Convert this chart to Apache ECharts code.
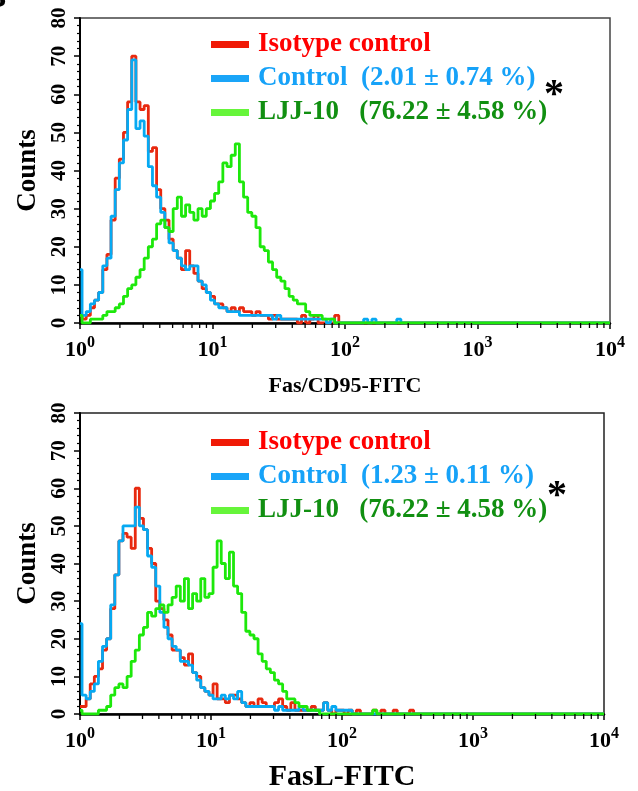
<!DOCTYPE html>
<html>
<head>
<meta charset="utf-8">
<script src="https://cdn.jsdelivr.net/npm/echarts@6/dist/echarts.min.js"></script>
<style>
  html, body { margin: 0; padding: 0; background: #fff; }
  #chart { width: 638px; height: 791px; }
</style>
</head>
<body>
<div id="chart"></div>
<script>
// histogram channels: 32 bins per decade, bin 0 = 10^0
const binsPerDecade = 32
const xMin = 1
const xMax = 10000

// Fas/CD95-FITC panel
const fasIsotype = [2, 1, 2, 4, 6, 8, 14, 18, 27, 38, 43, 50, 58, 70, 58, 56, 57, 45, 46, 35,
  30, 27, 22, 19, 17, 14, 19, 15, 13, 11, 9, 8, 7, 5, 5, 4, 3, 4, 3, 4,
  3, 3, 2, 3, 2, 2, 1, 2, 1, 1, 1, 1, 1, 0, 2, 0, 1, 2, 0, 0,
  0, 0, 2, 0, 0]
const fasControl = [14, 2, 3, 5, 6, 8, 15, 17, 28, 35, 42, 48, 56, 69, 51, 53, 49, 41, 36, 33,
  29, 25, 21, 19, 17, 15, 14, 15, 15, 11, 10, 8, 6, 5, 4, 4, 3, 3, 3, 2,
  2, 2, 2, 2, 2, 2, 2, 1, 2, 1, 1, 1, 1, 1, 1, 1, 1, 1, 1, 1,
  0, 1, 0, 0, 0, 0, 0, 0, 0, 1, 0, 1, 0, 0, 0, 0, 0, 1, 0]
const fasLJJ = [2, 0, 0, 1, 1, 1, 2, 3, 3, 4, 5, 7, 9, 10, 12, 14, 17, 20, 22, 26,
  27, 25, 24, 30, 33, 28, 31, 29, 27, 30, 28, 30, 32, 34, 37, 42, 41, 44, 47, 37,
  33, 29, 28, 25, 20, 19, 16, 14, 12, 11, 9, 7, 6, 5, 5, 3, 2, 2, 2, 1,
  1, 1, 0]

// FasL-FITC panel
const faslIsotype = [2, 2, 4, 8, 10, 12, 17, 20, 28, 37, 46, 48, 47, 44, 60, 52, 49, 44, 40, 30,
  28, 25, 21, 17, 17, 15, 13, 16, 11, 10, 7, 6, 5, 8, 4, 4, 3, 5, 5, 4,
  3, 2, 3, 2, 4, 3, 2, 2, 3, 4, 2, 1, 3, 1, 1, 1, 1, 2, 1, 1,
  3, 1, 0, 1, 1, 0, 1, 0, 1, 0, 0, 0, 1, 0, 1, 0, 0, 1, 0, 0,
  0, 1, 0]
const faslControl = [24, 5, 4, 6, 8, 14, 18, 20, 29, 37, 46, 50, 50, 50, 55, 50, 49, 42, 39, 34,
  27, 23, 20, 18, 17, 14, 14, 13, 11, 9, 7, 6, 5, 4, 4, 5, 4, 5, 4, 6,
  3, 2, 2, 2, 2, 2, 2, 2, 1, 2, 1, 1, 1, 1, 2, 1, 1, 1, 1, 1,
  3, 1, 2, 1, 1, 1, 1, 0]
const faslLJJ = [1, 0, 0, 0, 0, 1, 1, 2, 5, 7, 8, 7, 10, 14, 17, 21, 23, 27, 26, 28,
  29, 27, 29, 31, 34, 30, 36, 28, 32, 30, 36, 31, 32, 39, 46, 40, 36, 43, 34, 32,
  27, 22, 21, 20, 16, 14, 12, 11, 9, 8, 6, 4, 4, 3, 2, 2, 1, 1, 1, 0,
  0, 0, 0, 0, 0, 0, 0, 0, 0, 0, 0, 0, 1, 0]

const isotypeName = 'Isotype control'
const fasControlName = 'Control  (2.01 ± 0.74 %)'
const faslControlName = 'Control  (1.23 ± 0.11 %)'
const ljjName = 'LJJ-10   (76.22 ± 4.58 %)'

const lineColors = { red: '#e8290f', blue: '#06a9f2', green: '#1de80b' }
const swatchColors = { red: '#f01a06', blue: '#1aa5f8', green: '#66f53a' }
const textColors = { red: '#ff0000', blue: '#16a2f8', green: '#118f11' }

const serif = '"Liberation Serif", "Times New Roman", serif'

// log minor ticks (2..9 in each decade)
const minorTickValues = []
for (let d = 1; d < xMax; d *= 10) {
  for (let m = 2; m <= 9; m++) minorTickValues.push(d * m)
}

function toPoints(counts) {
  const pts = counts.map((c, i) => [Math.pow(10, i / binsPerDecade), c])
  pts.push([xMax, 0])
  return pts
}

function xAxisFor(gridIndex, title, gap, size) {
  return {
    type: 'log',
    logBase: 10,
    gridIndex,
    min: xMin,
    max: xMax,
    name: title,
    nameLocation: 'middle',
    nameGap: gap,
    nameTextStyle: { fontFamily: serif, fontWeight: 'bold', fontSize: size, color: '#000' },
    axisLine: { lineStyle: { color: '#000', width: 2.5 } },
    axisTick: { inside: false, length: 6, lineStyle: { color: '#000', width: 1.5 } },
    splitLine: { show: false },
    axisLabel: {
      margin: 12,
      formatter: v => '{b|10}{s|' + Math.round(Math.log10(v)) + '}',
      rich: {
        b: { fontFamily: serif, fontWeight: 'bold', fontSize: 22, color: '#000', lineHeight: 26, verticalAlign: 'bottom' },
        s: { fontFamily: serif, fontWeight: 'bold', fontSize: 16, color: '#000', lineHeight: 15, verticalAlign: 'top' }
      }
    }
  }
}

function yAxisFor(gridIndex) {
  return {
    type: 'value',
    gridIndex,
    min: 0,
    max: 80,
    interval: 10,
    name: 'Counts',
    nameLocation: 'middle',
    nameGap: 36,
    nameTextStyle: { fontFamily: serif, fontWeight: 'bold', fontSize: 27, color: '#000' },
    axisLine: { show: true, lineStyle: { color: '#000', width: 2 } },
    axisTick: { show: true, length: 6, lineStyle: { color: '#000', width: 1.5 } },
    minorTick: { show: true, splitNumber: 5, length: 3, lineStyle: { color: '#000', width: 1.2 } },
    splitLine: { show: false },
    axisLabel: {
      rotate: 90,
      margin: 10,
      fontFamily: serif,
      fontWeight: 'bold',
      fontSize: 21,
      color: '#000'
    }
  }
}

function histSeries(name, counts, color, axisIndex) {
  return {
    name,
    type: 'line',
    step: 'middle',
    xAxisIndex: axisIndex,
    yAxisIndex: axisIndex,
    data: toPoints(counts),
    showSymbol: false,
    symbol: 'none',
    lineStyle: { color, width: 2.8 },
    itemStyle: { color },
    animation: false
  }
}

function minorTickSeries(axisIndex) {
  return {
    type: 'custom',
    coordinateSystem: 'cartesian2d',
    xAxisIndex: axisIndex,
    yAxisIndex: axisIndex,
    silent: true,
    clip: false,
    z: 10,
    encode: { x: 0, y: 1 },
    data: minorTickValues.map(v => [v, 0]),
    renderItem: (params, api) => {
      const p = api.coord([api.value(0), api.value(1)])
      return {
        type: 'line',
        shape: { x1: p[0], y1: p[1], x2: p[0], y2: p[1] + 5 },
        style: { stroke: '#000', lineWidth: 1.3, fill: null }
      }
    }
  }
}

function legendFor(top, controlName) {
  return {
    orient: 'vertical',
    left: 206,
    top,
    icon: 'rect',
    itemWidth: 38,
    itemHeight: 7,
    itemGap: 7,
    selectedMode: false,
    textStyle: { fontFamily: serif, fontWeight: 'bold', fontSize: 27, lineHeight: 26, padding: [0, 0, 0, 4] },
    data: [
      { name: isotypeName, itemStyle: { color: swatchColors.red }, textStyle: { color: textColors.red } },
      { name: controlName, itemStyle: { color: swatchColors.blue }, textStyle: { color: textColors.blue } },
      { name: ljjName, itemStyle: { color: swatchColors.green }, textStyle: { color: textColors.green } }
    ]
  }
}

const chart = echarts.init(document.getElementById('chart'), null, { renderer: 'canvas' })

chart.setOption({
  animation: false,
  backgroundColor: '#fff',
  grid: [
    { left: 80, top: 18, width: 530, height: 305, show: true, borderColor: '#444', borderWidth: 1.5, outerBoundsMode: 'none' },
    { left: 80, top: 413, width: 524, height: 301, show: true, borderColor: '#222', borderWidth: 1.5, outerBoundsMode: 'none' }
  ],
  xAxis: [
    xAxisFor(0, 'Fas/CD95-FITC', 52, 22),
    xAxisFor(1, 'FasL-FITC', 48, 30)
  ],
  yAxis: [yAxisFor(0), yAxisFor(1)],
  legend: [legendFor(26, fasControlName), legendFor(424, faslControlName)],
  graphic: [
    { type: 'text', left: 544, top: 76, style: { text: '*', font: 'bold 40px ' + serif, fill: '#000' } },
    { type: 'text', left: 547, top: 477, style: { text: '*', font: 'bold 40px ' + serif, fill: '#000' } },
    { type: 'text', left: -14, top: -16, style: { text: 'B', font: 'bold 30px ' + serif, fill: '#000' } }
  ],
  series: [
    histSeries(isotypeName, fasIsotype, lineColors.red, 0),
    histSeries(fasControlName, fasControl, lineColors.blue, 0),
    histSeries(ljjName, fasLJJ, lineColors.green, 0),
    histSeries(isotypeName, faslIsotype, lineColors.red, 1),
    histSeries(faslControlName, faslControl, lineColors.blue, 1),
    histSeries(ljjName, faslLJJ, lineColors.green, 1),
    minorTickSeries(0),
    minorTickSeries(1)
  ]
})
</script>
</body>
</html>
